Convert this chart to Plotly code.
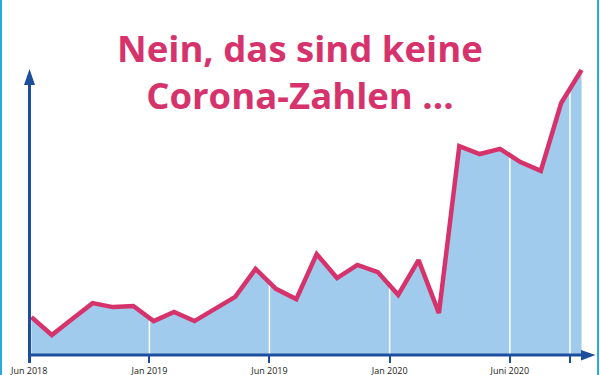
import numpy as np
import plotly.graph_objects as go

# ---- data ----
values = [13.3, 7.0, 12.6, 18.2, 16.8, 17.2, 11.9, 15.1, 11.9, 16.1, 20.4, 30.2,
          23.2, 19.6, 35.4, 27.0, 31.6, 29.1, 21.1, 33.3, 14.7, 73.3, 70.5, 72.3,
          67.7, 64.6, 88.4, 100.0]
x_idx = list(range(len(values)))
tick_pos = [-0.11, 5.79, 11.68, 17.58, 23.48, 26.43]
tick_text = ["Jun 2018", "Jan 2019", "Jun 2019", "Jan 2020", "Juni 2020", ""]
title_lines = ["Nein, das sind keine", "Corona-Zahlen ..."]

# ---- style ----
W, H = 600, 375
ML, MR, MT, MB = 29, 5, 56, 20
PW, PH = W - ML - MR, H - MT - MB
AX = "#1d4e9e"
RED = "#d6336c"
FILL = "#a1cbec"
CYAN = "#29abe2"
XR = [-0.12, 27.66]
YR = [0, 104.9]

def px_x(p):
    return (p - ML) / PW

def px_y(p):
    return (H - MB - p) / PH

fig = go.Figure()
fig.add_trace(go.Scatter(x=x_idx, y=values, mode="lines", fill="tozeroy",
                         fillcolor=FILL, line=dict(color="rgba(0,0,0,0)", width=0),
                         hoverinfo="skip", showlegend=False))
# white gridlines under the curve
for t in tick_pos[1:]:
    yv = float(np.interp(t, x_idx, values))
    fig.add_trace(go.Scatter(x=[t, t], y=[0, yv - 1.0], mode="lines",
                             line=dict(color="white", width=1.5),
                             hoverinfo="skip", showlegend=False))
fig.add_trace(go.Scatter(x=x_idx, y=values, mode="lines",
                         line=dict(color=RED, width=4.5, shape="linear"),
                         hoverinfo="skip", showlegend=False, cliponaxis=False))

shapes = []
# x axis line + arrow
shapes.append(dict(type="line", xref="paper", yref="paper", x0=0, x1=px_x(584), y0=0, y1=0,
                   line=dict(color=AX, width=3)))
shapes.append(dict(type="path", xref="paper", yref="paper",
                   path=f"M {px_x(595.5)} 0 L {px_x(581)} {px_y(350)} L {px_x(581)} {px_y(360.5)} Z",
                   fillcolor=AX, line=dict(width=0)))
# y axis line + arrow
shapes.append(dict(type="line", xref="paper", yref="paper", x0=px_x(29.5), x1=px_x(29.5),
                   y0=px_y(363), y1=px_y(82), line=dict(color=AX, width=3)))
shapes.append(dict(type="path", xref="paper", yref="paper",
                   path=f"M {px_x(29.5)} {px_y(69)} L {px_x(24)} {px_y(85)} L {px_x(35)} {px_y(85)} Z",
                   fillcolor=AX, line=dict(width=0)))
# frame borders
shapes.append(dict(type="line", xref="paper", yref="paper", x0=px_x(1), x1=px_x(1),
                   y0=px_y(0), y1=px_y(375), line=dict(color=CYAN, width=2)))
shapes.append(dict(type="line", xref="paper", yref="paper", x0=px_x(598), x1=px_x(598),
                   y0=px_y(0), y1=px_y(375), line=dict(color=CYAN, width=2)))

annotations = [
    dict(text="<br>".join(title_lines), xref="paper", yref="paper", x=px_x(300), y=px_y(72),
         showarrow=False, xanchor="center", yanchor="middle", align="center",
         font=dict(family="Open Sans", size=36.5, color=RED, weight="bold")),
]

fig.update_layout(
    width=W, height=H,
    margin=dict(l=ML, r=MR, t=MT, b=MB, pad=0, autoexpand=False),
    paper_bgcolor="white", plot_bgcolor="white",
    shapes=shapes, annotations=annotations,
    xaxis=dict(range=XR, tickmode="array", tickvals=tick_pos, ticktext=tick_text,
               showgrid=False, zeroline=False, showline=False, automargin=False,
               ticks="outside", ticklen=7, tickwidth=2, tickcolor=AX,
               tickfont=dict(family="Open Sans", size=9, color="#222222"),
               fixedrange=True),
    yaxis=dict(range=YR, showgrid=False, zeroline=False, showline=False,
               automargin=False, showticklabels=False, ticks="", fixedrange=True),
    showlegend=False,
)

fig.write_html("out.html")
